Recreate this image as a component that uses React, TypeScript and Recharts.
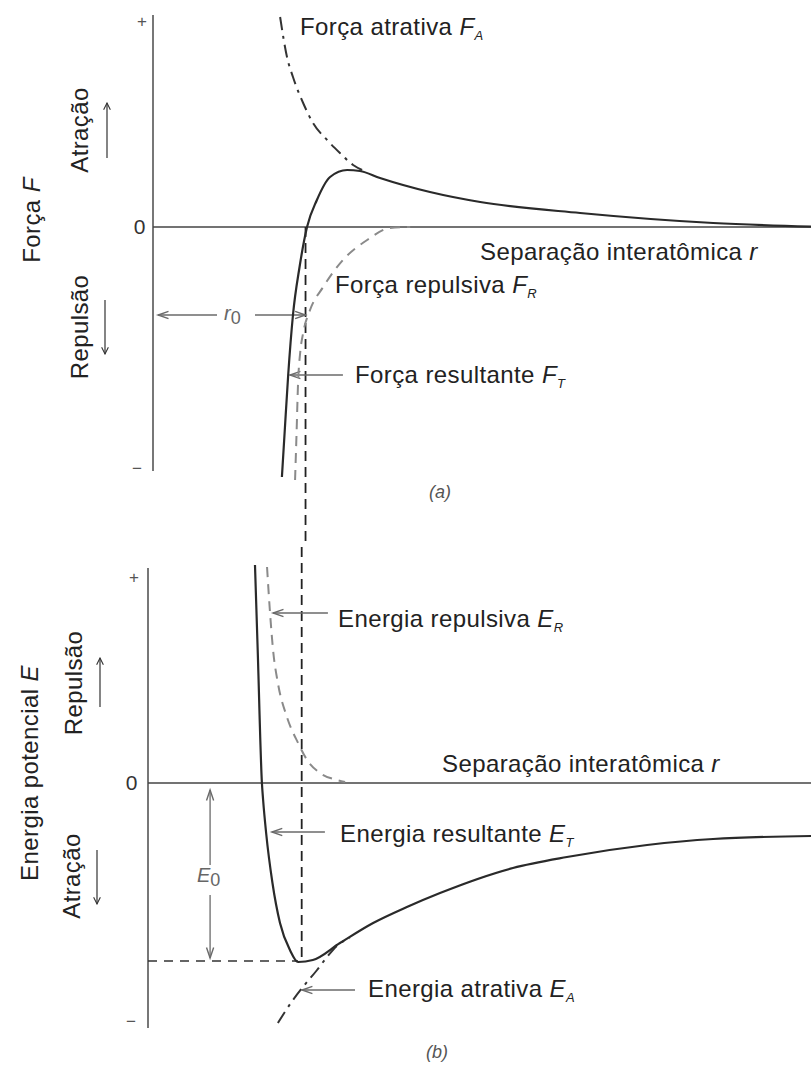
import React from 'react';
import { LineChart, Line, XAxis, YAxis, ReferenceLine } from 'recharts';

const FONT = '"Liberation Sans", Arial, Helvetica, sans-serif';
const INK = '#222';
const GREY = '#8a8a8a';
const ARROW = '#6a6a6a';

// (a) Força F x separação r
const resultantForceR = [4.31, 4.4, 4.52, 4.68, 4.9, 5.15, 5.48, 5.92, 6.49, 6.92, 7.59, 9.26, 10.94, 14.28, 18.73, 22];
const resultantForce = [-12.5, -10.3, -7.4, -4.4, -2.0, 0, 1.35, 2.5, 2.85, 2.8, 2.45, 1.75, 1.25, 0.7, 0.2, 0.02];
const attractiveForceR = [4.25, 4.48, 4.68, 5.02, 5.35, 5.82, 6.25, 6.69, 6.99];
const attractiveForce = [10.5, 8.5, 7.5, 6.2, 5.2, 4.35, 3.7, 3.1, 2.85];
const repulsiveForceR = [4.75, 4.8, 4.85, 4.92, 5.02, 5.25, 5.69, 6.35, 7.16, 7.93, 8.6];
const repulsiveForce = [-12.65, -10.3, -7.8, -6.3, -5.3, -4.15, -3.0, -1.65, -0.65, -0.05, 0];

// (b) Energia potencial E x separação r
const resultantEnergyR = [3.55, 3.64, 3.78, 3.82, 3.92, 4.13, 4.38, 4.71, 4.98, 5.47, 6.37, 7.47, 8.59, 9.69, 12.11, 13.9, 16.56, 18.75, 22];
const resultantEnergy = [10.9, 6.65, 0, -0.85, -2.5, -5.0, -7.0, -8.35, -8.95, -8.85, -8.0, -7.0, -6.2, -5.5, -4.25, -3.7, -3.1, -2.8, -2.65];
const repulsiveEnergyR = [3.95, 4.05, 4.15, 4.31, 4.61, 4.98, 5.28, 5.71, 6.27, 6.54];
const repulsiveEnergy = [10.8, 8.5, 6.65, 5.0, 3.3, 2.0, 1.15, 0.5, 0.15, 0.05];
const attractiveEnergyR = [4.31, 4.81, 5.14, 5.61, 5.94, 6.3, 6.7];
const attractiveEnergy = [-12.0, -10.85, -10.2, -9.35, -8.7, -8.1, -7.75];

const forceTicks = [10.3, 0, -12.05];
const energyTicks = [10.3, 0, -11.9];

const R_MAX = 22;
const R0 = 5.1;
const E0 = -8.9;

const zip = (rs: number[], vs: number[]) => rs.map((r, i) => ({ r, v: vs[i] }));

// thin grey pointer line with an open arrow head at the second point
const arrowShape = (props: any) => {
  const { x1, y1, x2, y2 } = props;
  const a = Math.atan2(y2 - y1, x2 - x1);
  const len = 11;
  const w = 0.33;
  const p1 = `${x2 - len * Math.cos(a - w)},${y2 - len * Math.sin(a - w)}`;
  const p2 = `${x2 - len * Math.cos(a + w)},${y2 - len * Math.sin(a + w)}`;
  return (
    <g>
      <line x1={x1} y1={y1} x2={x2} y2={y2} stroke={ARROW} strokeWidth={1.3} />
      <polyline points={`${p1} ${x2},${y2} ${p2}`} fill="none" stroke={ARROW} strokeWidth={1.4} />
    </g>
  );
};

const SignTick = ({ x, y, payload, shift }: any) => {
  const v = payload.value;
  const s = v > 0 ? '+' : v < 0 ? '−' : '0';
  return (
    <text
      x={x + shift[s]}
      y={y}
      dy="0.35em"
      textAnchor="middle"
      fontFamily={FONT}
      fontSize={s === '0' ? 21 : 17}
      fill={s === '0' ? '#333' : '#555'}
    >
      {s}
    </text>
  );
};

const Sub = ({ main, sub }: { main: string; sub: string }) => (
  <>
    <tspan fontStyle="italic">{main}</tspan>
    <tspan fontStyle="italic" fontSize={13} dy={5}>{sub}</tspan>
  </>
);

const Labels = () => (
  <svg
    width={811}
    height={1066}
    style={{ position: 'absolute', left: 0, top: 0, pointerEvents: 'none' }}
    fontFamily={FONT}
    fill={INK}
    fontSize={24}
    letterSpacing={0.4}
  >
    <defs>
      <marker id="head" viewBox="0 0 10 10" refX="9" refY="5" markerWidth="7" markerHeight="7" orient="auto">
        <path d="M1,1 L9,5 L1,9" fill="none" stroke="#333" strokeWidth={1.3} />
      </marker>
    </defs>

    {/* (a) */}
    <text x={300} y={35}>Força atrativa <Sub main="F" sub="A" /></text>
    <text x={480} y={260}>Separação interatômica <tspan fontStyle="italic">r</tspan></text>
    <text x={335} y={293}>Força repulsiva <Sub main="F" sub="R" /></text>
    <text x={355} y={383}>Força resultante <Sub main="F" sub="T" /></text>
    <text x={224} y={320} fill="#666" fontSize={20} letterSpacing={0}>
      <tspan fontStyle="italic">r</tspan>
      <tspan fontSize={18} dy={4}>0</tspan>
    </text>
    <text x={440} y={498} fontSize={18} fontStyle="italic" fill="#555" textAnchor="middle" letterSpacing={0}>(a)</text>

    <text x={40} y={220} textAnchor="middle" transform="rotate(-90 40 220)">
      Força <tspan fontStyle="italic">F</tspan>
    </text>
    <text x={88} y={130} textAnchor="middle" transform="rotate(-90 88 130)">Atração</text>
    <text x={88} y={327} textAnchor="middle" transform="rotate(-90 88 327)">Repulsão</text>
    <line x1={107} y1={158} x2={107} y2={103} stroke="#333" strokeWidth={1.2} markerEnd="url(#head)" />
    <line x1={105} y1={300} x2={105} y2={354} stroke="#333" strokeWidth={1.2} markerEnd="url(#head)" />

    {/* (b) */}
    <text x={338} y={627}>Energia repulsiva <Sub main="E" sub="R" /></text>
    <text x={442} y={772}>Separação interatômica <tspan fontStyle="italic">r</tspan></text>
    <text x={340} y={842}>Energia resultante <Sub main="E" sub="T" /></text>
    <text x={368} y={997}>Energia atrativa <Sub main="E" sub="A" /></text>
    <text x={197} y={882} fill="#666" fontSize={20} letterSpacing={0}>
      <tspan fontStyle="italic">E</tspan>
      <tspan fontSize={18} dy={4}>0</tspan>
    </text>
    <text x={437} y={1058} fontSize={18} fontStyle="italic" fill="#555" textAnchor="middle" letterSpacing={0}>(b)</text>

    <text x={38} y={773} textAnchor="middle" transform="rotate(-90 38 773)">
      Energia potencial <tspan fontStyle="italic">E</tspan>
    </text>
    <text x={82} y={683} textAnchor="middle" transform="rotate(-90 82 683)">Repulsão</text>
    <text x={80} y={876} textAnchor="middle" transform="rotate(-90 80 876)">Atração</text>
    <line x1={100} y1={707} x2={100} y2={658} stroke="#333" strokeWidth={1.2} markerEnd="url(#head)" />
    <line x1={97} y1={850} x2={97} y2={904} stroke="#333" strokeWidth={1.2} markerEnd="url(#head)" />
  </svg>
);

export default function App() {
  return (
    <div style={{ position: 'absolute', left: 0, top: 0, width: 811, height: 1066, background: '#fff' }}>
      {/* (a) Força */}
      <div style={{ position: 'absolute', left: 0, top: 0 }}>
        <LineChart width={811} height={547} margin={{ top: 7, right: 0, bottom: 0, left: 0 }}>
          <XAxis type="number" dataKey="r" domain={[0, R_MAX]} hide allowDataOverflow />
          <YAxis
            type="number"
            domain={[-16, 11]}
            allowDataOverflow
            width={153}
            ticks={forceTicks}
            axisLine={false}
            tickLine={false}
            tickSize={0}
            tickMargin={0}
            tick={<SignTick shift={{ '+': -11, '0': -13.5, '−': -16 }} />}
          />
          <ReferenceLine segment={[{ x: 0, y: 10.6 }, { x: 0, y: -12.2 }]} stroke="#555" strokeWidth={1.6} />
          <ReferenceLine segment={[{ x: 0, y: 0 }, { x: R_MAX, y: 0 }]} stroke="#444" strokeWidth={1.4} />
          <ReferenceLine segment={[{ x: R0, y: 0 }, { x: R0, y: -16 }]} stroke={INK} strokeWidth={1.8} strokeDasharray="10 6" />
          <ReferenceLine segment={[{ x: 2.14, y: -4.4 }, { x: 0.17, y: -4.4 }]} shape={arrowShape} />
          <ReferenceLine segment={[{ x: 3.41, y: -4.4 }, { x: R0, y: -4.4 }]} shape={arrowShape} />
          <ReferenceLine segment={[{ x: 6.35, y: -7.4 }, { x: 4.58, y: -7.4 }]} shape={arrowShape} />
          <Line
            data={zip(repulsiveForceR, repulsiveForce)}
            dataKey="v"
            type="monotone"
            stroke={GREY}
            strokeWidth={2}
            strokeDasharray="10 7"
            dot={false}
            activeDot={false}
            isAnimationActive={false}
          />
          <Line
            data={zip(attractiveForceR, attractiveForce)}
            dataKey="v"
            type="monotone"
            stroke="#333"
            strokeWidth={2}
            strokeDasharray="13 6 3 6"
            dot={false}
            activeDot={false}
            isAnimationActive={false}
          />
          <Line
            data={zip(resultantForceR, resultantForce)}
            dataKey="v"
            type="monotone"
            stroke="#2a2a2a"
            strokeWidth={2.2}
            dot={false}
            activeDot={false}
            isAnimationActive={false}
          />
        </LineChart>
      </div>

      {/* (b) Energia potencial */}
      <div style={{ position: 'absolute', left: 0, top: 547 }}>
        <LineChart width={811} height={519} margin={{ top: 0, right: 0, bottom: 13, left: 0 }}>
          <XAxis type="number" dataKey="r" domain={[0, R_MAX]} hide allowDataOverflow />
          <YAxis
            type="number"
            domain={[-13.5, 11.8]}
            allowDataOverflow
            width={148}
            ticks={energyTicks}
            axisLine={false}
            tickLine={false}
            tickSize={0}
            tickMargin={0}
            tick={<SignTick shift={{ '+': -14, '0': -16.5, '−': -17 }} />}
          />
          <ReferenceLine segment={[{ x: 0, y: 10.75 }, { x: 0, y: -12.25 }]} stroke="#555" strokeWidth={1.6} />
          <ReferenceLine segment={[{ x: 0, y: 0 }, { x: R_MAX, y: 0 }]} stroke="#444" strokeWidth={1.4} />
          <ReferenceLine segment={[{ x: R0, y: 11.8 }, { x: R0, y: E0 }]} stroke={INK} strokeWidth={1.8} strokeDasharray="10 6" />
          <ReferenceLine segment={[{ x: 0, y: E0 }, { x: 4.98, y: E0 }]} stroke="#333" strokeWidth={1.6} strokeDasharray="9 7" />
          <ReferenceLine segment={[{ x: 2.06, y: -4.1 }, { x: 2.06, y: -0.35 }]} shape={arrowShape} />
          <ReferenceLine segment={[{ x: 2.06, y: -5.6 }, { x: 2.06, y: -8.75 }]} shape={arrowShape} />
          <ReferenceLine segment={[{ x: 5.97, y: 8.5 }, { x: 4.15, y: 8.5 }]} shape={arrowShape} />
          <ReferenceLine segment={[{ x: 5.87, y: -2.45 }, { x: 4.11, y: -2.45 }]} shape={arrowShape} />
          <ReferenceLine segment={[{ x: 6.87, y: -10.35 }, { x: 5.11, y: -10.35 }]} shape={arrowShape} />
          <Line
            data={zip(repulsiveEnergyR, repulsiveEnergy)}
            dataKey="v"
            type="monotone"
            stroke={GREY}
            strokeWidth={2}
            strokeDasharray="10 7"
            dot={false}
            activeDot={false}
            isAnimationActive={false}
          />
          <Line
            data={zip(attractiveEnergyR, attractiveEnergy)}
            dataKey="v"
            type="monotone"
            stroke="#333"
            strokeWidth={2}
            strokeDasharray="13 6 3 6"
            dot={false}
            activeDot={false}
            isAnimationActive={false}
          />
          <Line
            data={zip(resultantEnergyR, resultantEnergy)}
            dataKey="v"
            type="monotone"
            stroke="#2a2a2a"
            strokeWidth={2.2}
            dot={false}
            activeDot={false}
            isAnimationActive={false}
          />
        </LineChart>
      </div>

      <Labels />
    </div>
  );
}
